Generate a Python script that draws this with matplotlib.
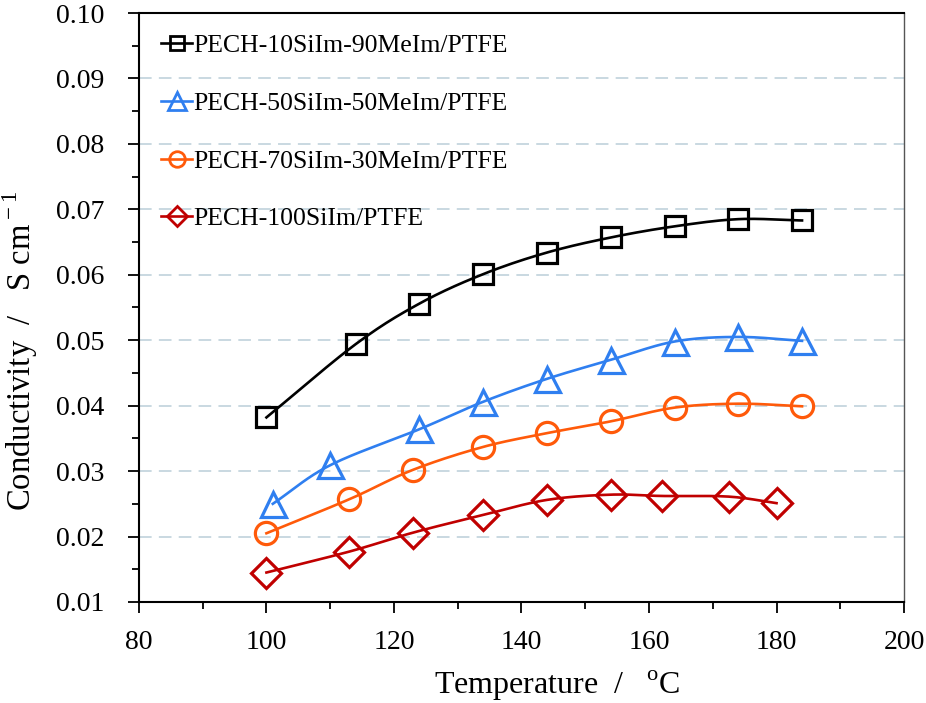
import numpy as np
import matplotlib.pyplot as plt
from matplotlib.ticker import MultipleLocator, FormatStrFormatter

plt.rcParams['font.family'] = ['Liberation Serif', 'DejaVu Serif']
plt.rcParams['mathtext.fontset'] = 'custom'
plt.rcParams['mathtext.rm'] = 'Liberation Serif'

# data
labels = ['PECH-10SiIm-90MeIm/PTFE', 'PECH-50SiIm-50MeIm/PTFE',
          'PECH-70SiIm-30MeIm/PTFE', 'PECH-100SiIm/PTFE']

t_10 = [100, 114, 124, 134, 144, 154, 164, 174, 184]
s_10 = [0.0382, 0.0494, 0.0556, 0.0601, 0.0634, 0.0657, 0.0674, 0.0685, 0.0683]

t_50 = [101, 110, 124, 134, 144, 154, 164, 174, 184]
s_50 = [0.0250, 0.0309, 0.0364, 0.0406, 0.0441, 0.0470, 0.0498, 0.0505, 0.0499]

t_70 = [100, 113, 123, 134, 144, 154, 164, 174, 184]
s_70 = [0.0205, 0.0257, 0.0302, 0.0337, 0.0358, 0.0376, 0.0397, 0.0403, 0.0399]

t_100 = [100, 113, 123, 134, 144, 154, 162, 172.5, 180]
s_100 = [0.0145, 0.0177, 0.0206, 0.0233, 0.0256, 0.0264, 0.0262, 0.0261, 0.0251]


def smooth(x, y, n=20):
    # Catmull-Rom curve through the points, like a spreadsheet "smoothed line"
    p = np.column_stack([x, y]).astype(float)
    p = np.vstack([2 * p[0] - p[1], p, 2 * p[-1] - p[-2]])
    out = []
    for i in range(1, len(p) - 2):
        p0, p1, p2, p3 = p[i - 1], p[i], p[i + 1], p[i + 2]
        for t in np.linspace(0, 1, n, endpoint=False):
            out.append(0.5 * ((2 * p1) + (-p0 + p2) * t
                              + (2 * p0 - 5 * p1 + 4 * p2 - p3) * t ** 2
                              + (-p0 + 3 * p1 - 3 * p2 + p3) * t ** 3))
    out.append(p[-2])
    out = np.array(out)
    return out[:, 0], out[:, 1]


fig = plt.figure(figsize=(9.26, 7.03), dpi=100)
ax = fig.add_axes([0.150, 0.1437, 0.8263, 0.8378])

series = [
    (t_10, s_10, '#000000', 's', 15),
    (t_50, s_50, '#2f7ff0', '^', 18),
    (t_70, s_70, '#ff5a0a', 'o', 16),
    (t_100, s_100, '#c00000', 'D', 15),
]

for (tx, sy, col, mk, ms), lab in zip(series, labels):
    xs, ys = smooth(tx, sy)
    ax.plot(xs, ys, color=col, lw=1.9, zorder=2)
    ax.plot(tx, sy, linestyle='none', marker=mk, ms=ms, mfc='none',
            mec=col, mew=2.3, zorder=3)
    ax.plot([], [], color=col, lw=1.9, marker=mk, ms=ms * 0.7, mfc='none',
            mec=col, mew=2.0, label=lab)

ax.set_xlim(80, 200)
ax.set_ylim(0.01, 0.10)
ax.xaxis.set_major_locator(MultipleLocator(20))
ax.xaxis.set_minor_locator(MultipleLocator(10))
ax.yaxis.set_major_locator(MultipleLocator(0.01))
ax.yaxis.set_minor_locator(MultipleLocator(0.005))
ax.yaxis.set_major_formatter(FormatStrFormatter('%.2f'))

ax.tick_params(which='major', direction='out', length=8, width=1.3,
               labelsize=20)
ax.tick_params(which='minor', direction='out', length=5, width=1.3)
ax.tick_params(axis='x', pad=12)
ax.tick_params(axis='y', pad=17)

for yv in np.arange(0.02, 0.095, 0.01):
    ax.axhline(yv, color='#c5d6de', lw=1.3, ls=(0, (7, 4)), zorder=1)

for s in ['left', 'bottom', 'top']:
    ax.spines[s].set_linewidth(1.5)
ax.spines['right'].set_linewidth(1.0)
ax.spines['right'].set_color('#555555')

ax.set_xlabel('Temperature  /   $^{\\rm o}$C', fontsize=23)
ax.xaxis.set_label_coords(0.546, -0.114)
ax.set_ylabel('Conductivity  /   S cm$^{\\rm -1}$', fontsize=23.5)
ax.yaxis.set_label_coords(-0.129, 0.426)

ax.legend(loc='upper left', frameon=False, fontsize=18.5, handlelength=1.2,
          handletextpad=0.05, labelspacing=1.35, borderaxespad=0.0,
          bbox_to_anchor=(0.016, 0.981))

fig.savefig('out.png', dpi=100)
